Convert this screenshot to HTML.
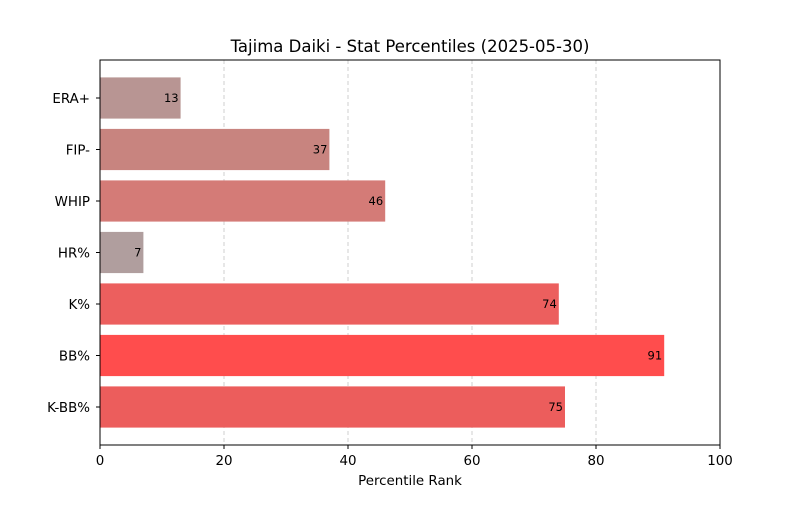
<!DOCTYPE html>
<html><head><meta charset="utf-8"><style>
body{margin:0;background:#fff;font-family:"Liberation Sans","DejaVu Sans",sans-serif}
</style></head><body>
<svg id="chart" width="800" height="500" xmlns="http://www.w3.org/2000/svg" font-family="DejaVu Sans, Liberation Sans, sans-serif">
<rect width="800" height="500" fill="#fff"/>
<text x="410" y="52" text-anchor="middle" font-size="16.5">Tajima Daiki - Stat Percentiles (2025-05-30)</text>
<g id="grid"></g><g id="bars"></g><g id="axes"></g>
<text x="410" y="485" text-anchor="middle" font-size="13.4">Percentile Rank</text>
</svg>
<script>
const categories = ["ERA+","FIP-","WHIP","HR%","K%","BB%","K-BB%"];
const values = [13,37,46,7,74,91,75];
const barColors = ["#b89593","#c8847f","#d47b77","#b09e9e","#ec5f5e","#ff4d4d","#ec5d5c"];
const xTicks = [0,20,40,60,80,100];

const L=100,R=720,T=60,B=445;
const NS="http://www.w3.org/2000/svg";
const x=v=>L+(v/100)*(R-L);
const yc=i=>98+i*((407-98)/(categories.length-1));
const bh=41.2;
function mk(tag,attrs,parent){const e=document.createElementNS(NS,tag);for(const k in attrs)e.setAttribute(k,attrs[k]);parent.appendChild(e);return e;}
const grid=document.getElementById('grid'),bars=document.getElementById('bars'),axes=document.getElementById('axes');
xTicks.forEach(t=>{
  if(t>0&&t<100){const g=mk('line',{x1:x(t),x2:x(t),y1:T,y2:B,stroke:'#c4c4c4','stroke-dasharray':'4,3','stroke-width':0.8},grid);
  
  }
  const tk=mk('line',{x1:x(t),x2:x(t),y1:B,y2:B+4,stroke:'#000'},axes);
  
  
  const tl=mk('text',{x:x(t),y:B+20,'text-anchor':'middle','font-size':13.4},axes);tl.textContent=t;
  
  
});
categories.forEach((c,i)=>{
  const r=mk('rect',{x:L,y:yc(i)-bh/2,width:x(values[i])-L,height:bh,fill:barColors[i]},bars);
  
  
  const v=mk('text',{x:x(values[i])-2,y:yc(i)+4,'text-anchor':'end','font-size':11.5},bars);v.textContent=values[i];
  
  
  const tk=mk('line',{x1:L-4,x2:L,y1:yc(i),y2:yc(i),stroke:'#000'},axes);
  
  
  const tl=mk('text',{x:L-10,y:yc(i)+5,'text-anchor':'end','font-size':13.4},axes);tl.textContent=c;
  
  
});
const f=mk('rect',{x:L,y:T,width:R-L,height:B-T,fill:'none',stroke:'#000','stroke-width':1},axes);


</script>
</body></html>
